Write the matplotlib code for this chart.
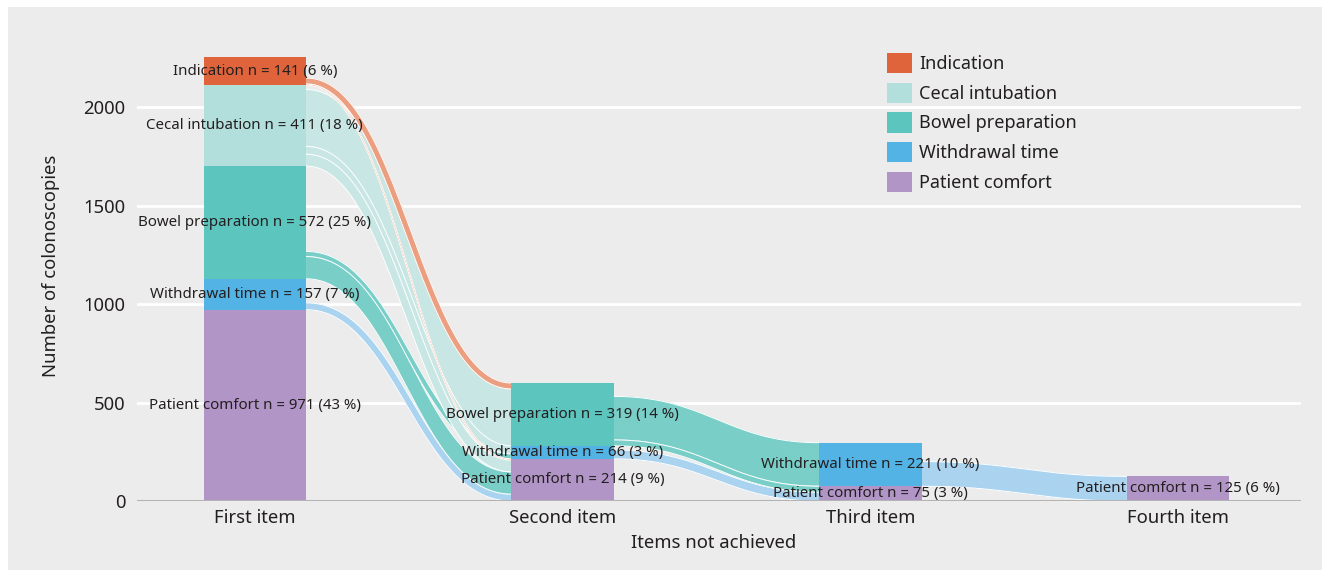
import numpy as np
import matplotlib.pyplot as plt
from matplotlib.patches import Patch, Rectangle

plt.rcParams['font.family'] = ['Noto Sans', 'DejaVu Sans']
TXT = '#231F20'

# ---- data ----
items = ['Indication', 'Cecal intubation', 'Bowel preparation', 'Withdrawal time', 'Patient comfort']
columns = ['First item', 'Second item', 'Third item', 'Fourth item']

first_items = ['Indication', 'Cecal intubation', 'Bowel preparation', 'Withdrawal time', 'Patient comfort']
first_n = [141, 411, 572, 157, 971]
first_pct = [6, 18, 25, 7, 43]

second_items = ['Bowel preparation', 'Withdrawal time', 'Patient comfort']
second_n = [319, 66, 214]
second_pct = [14, 3, 9]

third_items = ['Withdrawal time', 'Patient comfort']
third_n = [221, 75]
third_pct = [10, 3]

fourth_items = ['Patient comfort']
fourth_n = [125]
fourth_pct = [6]

# flows (source item, target item, colonoscopies) - estimated from band widths
flows_1_2 = [('Indication', 'Bowel preparation', 30),
             ('Indication', 'Patient comfort', 6),
             ('Cecal intubation', 'Bowel preparation', 289),
             ('Cecal intubation', 'Withdrawal time', 40),
             ('Cecal intubation', 'Patient comfort', 60),
             ('Bowel preparation', 'Withdrawal time', 26),
             ('Bowel preparation', 'Patient comfort', 113),
             ('Withdrawal time', 'Patient comfort', 35)]
flows_2_3 = [('Bowel preparation', 'Withdrawal time', 221),
             ('Bowel preparation', 'Patient comfort', 30),
             ('Withdrawal time', 'Patient comfort', 45)]
flows_3_4 = [('Withdrawal time', 'Patient comfort', 125)]

node_colors = {'Indication': '#DF643B', 'Cecal intubation': '#B2DFDB',
               'Bowel preparation': '#5BC5BE', 'Withdrawal time': '#53B3E5',
               'Patient comfort': '#B195C6'}
flow_colors = {'Indication': '#EC9E80', 'Cecal intubation': '#C8E7E4',
               'Bowel preparation': '#79CEC8', 'Withdrawal time': '#AAD3F0'}

stacks = [(first_items, first_n, first_pct), (second_items, second_n, second_pct),
          (third_items, third_n, third_pct), (fourth_items, fourth_n, fourth_pct)]
flow_sets = [flows_1_2, flows_2_3, flows_3_4]

BAR_W = 1 / 3
KNOT = 0.45
STRAND = 40  # a flow is drawn as strands of at most this many colonoscopies

fig = plt.figure(figsize=(13.3, 5.77), dpi=100)
fig.patches.append(Rectangle((8 / 1330, 7 / 577), 1314 / 1330, 563 / 577,
                             transform=fig.transFigure, facecolor='#EBECEB',
                             edgecolor='none', zorder=-5))
ax = fig.add_axes([137 / 1330, 1 - 501 / 577, 1164 / 1330, 471 / 577])
ax.set_facecolor('none')
ax.set_xlim(-0.383, 3.40)
ax.set_ylim(0, 2391)

# node positions (stacked from the bottom, last item of the list at the bottom)
pos = []
for names, ns, _ in stacks:
    d = {}
    y = 0
    for name, n in zip(reversed(names), reversed(ns)):
        d[name] = (y, y + n)
        y += n
    pos.append(d)


def ribbon(x0, x1, s0, s1, t0, t1):
    # edges of a ribbon of constant width along a bezier centre line (in pixels)
    to_px = ax.transData.transform
    to_data = ax.transData.inverted().transform
    p0 = to_px((x0, (s0 + s1) / 2))
    p3 = to_px((x1, (t0 + t1) / 2))
    half = (to_px((x0, s1))[1] - to_px((x0, s0))[1]) / 2
    dx = p3[0] - p0[0]
    p1 = p0 + [KNOT * dx, 0]
    p2 = p3 - [KNOT * dx, 0]
    t = np.linspace(0, 1, 200)[:, None]
    c = (1 - t) ** 3 * p0 + 3 * (1 - t) ** 2 * t * p1 + 3 * (1 - t) * t ** 2 * p2 + t ** 3 * p3
    d = 3 * (1 - t) ** 2 * (p1 - p0) + 6 * (1 - t) * t * (p2 - p1) + 3 * t ** 2 * (p3 - p2)
    nrm = np.column_stack([-d[:, 1], d[:, 0]]) / np.hypot(d[:, 0], d[:, 1])[:, None]
    return to_data(c + half * nrm), to_data(c - half * nrm)


def draw_flow(x0, x1, s0, s1, t0, t1, color):
    n_str = int(np.ceil((s1 - s0) / STRAND))
    fr = np.linspace(0, 1, n_str + 1)
    edges = []
    for i in range(n_str):
        up, lo = ribbon(x0, x1, s0 + (s1 - s0) * fr[i], s0 + (s1 - s0) * fr[i + 1],
                        t0 + (t1 - t0) * fr[i], t0 + (t1 - t0) * fr[i + 1])
        ring = np.vstack([up, lo[::-1]])
        ax.fill(ring[:, 0], ring[:, 1], facecolor=color, edgecolor=color,
                linewidth=0.4, zorder=2)
        edges.append((up, lo))
    top = edges[-1][0]
    bot = edges[0][1]
    ax.plot(top[:, 0], top[:, 1], color='white', linewidth=0.7, zorder=2)
    ax.plot(bot[:, 0], bot[:, 1], color='white', linewidth=0.7, zorder=2)


for k, flows in enumerate(flow_sets):
    src_pos, tgt_pos = pos[k], pos[k + 1]
    # source side: stacked from bottom of source node, lowest target first
    src_off = {name: p[0] for name, p in src_pos.items()}
    src_seg = {}
    for f in sorted(flows, key=lambda f: -items.index(f[1])):
        a = src_off[f[0]]
        src_seg[f] = (a, a + f[2])
        src_off[f[0]] += f[2]
    # target side: stacked from top of target node, highest source first
    tgt_off = {name: p[1] for name, p in tgt_pos.items()}
    tgt_seg = {}
    for f in sorted(flows, key=lambda f: items.index(f[0])):
        b = tgt_off[f[1]]
        tgt_seg[f] = (b - f[2], b)
        tgt_off[f[1]] -= f[2]
    for f in sorted(flows, key=lambda f: -items.index(f[0])):
        (s0, s1), (t0, t1) = src_seg[f], tgt_seg[f]
        draw_flow(k + BAR_W / 2, k + 1 - BAR_W / 2, s0, s1, t0, t1, flow_colors[f[0]])

# nodes and their labels
for k, (names, ns, pcts) in enumerate(stacks):
    for name, n, p in zip(names, ns, pcts):
        y0, y1 = pos[k][name]
        ax.bar(k, n, bottom=y0, width=BAR_W, color=node_colors[name], zorder=3)
        ax.text(k, (y0 + y1) / 2, f'{name} n = {n} ({p} %)', ha='center', va='center',
                fontsize=10.8, color=TXT, zorder=5)

ax.set_xticks(range(len(columns)))
ax.set_xticklabels(columns)
ax.set_yticks([0, 500, 1000, 1500, 2000])
ax.grid(axis='y', color='white', linewidth=2)
ax.set_axisbelow(True)
ax.axhline(0, color='#B2B3B2', linewidth=2.2, zorder=4)
for sp in ax.spines.values():
    sp.set_visible(False)
ax.tick_params(axis='both', length=0, labelsize=13.3, labelcolor=TXT)
ax.tick_params(axis='x', pad=6)
ax.tick_params(axis='y', pad=8.5)

ax.set_ylabel('Number of colonoscopies', fontsize=13.3, color=TXT)
ax.yaxis.set_label_coords(-0.066, 0.5)
ax.set_xlabel('Items not achieved', fontsize=13.3, color=TXT)
ax.xaxis.set_label_coords((714 - 137) / 1164, -0.071)

handles = [Patch(facecolor=node_colors[i], label=i) for i in items]
ax.legend(handles=handles, loc='upper left', bbox_to_anchor=(887 / 1330, 1 - 53 / 577),
          bbox_transform=fig.transFigure, frameon=False, fontsize=13,
          handlelength=1.39, handleheight=1.35, handletextpad=0.38,
          labelspacing=0.52, borderpad=0, borderaxespad=0, labelcolor=TXT)

fig.savefig('out.png', dpi=100, facecolor='white')
